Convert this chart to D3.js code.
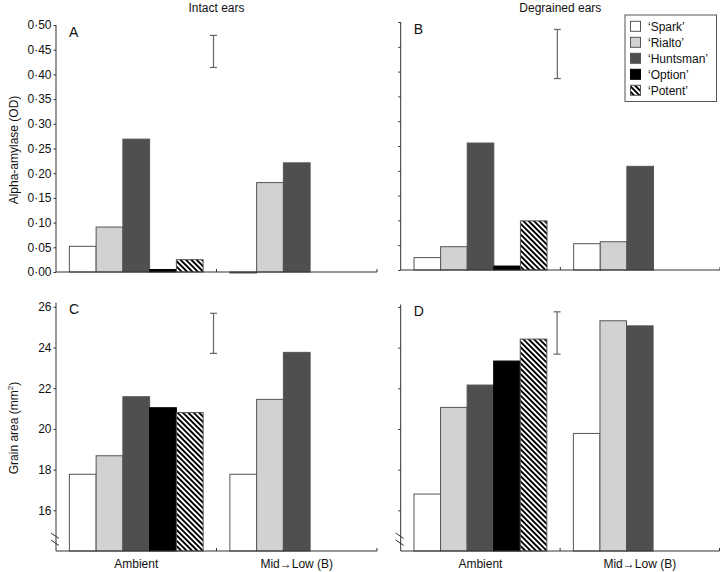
<!DOCTYPE html>
<html><head><meta charset="utf-8">
<script src="https://cdn.jsdelivr.net/npm/d3@7"></script>
<style>
body{margin:0;background:#fff;}
text{font-family:"Liberation Sans",Arial,sans-serif;fill:#111;}
</style></head>
<body><svg id="c" width="720" height="572"></svg>
<script>
const cultivars = ['\u2018Spark\u2019','\u2018Rialto\u2019','\u2018Huntsman\u2019','\u2018Option\u2019','\u2018Potent\u2019'];
const treatments = ['Ambient','Mid\u2192Low (B)'];
const columnTitles = ['Intact ears','Degrained ears'];
// values per treatment, in cultivar order
const amylaseIntact = [[0.052,0.091,0.269,0.005,0.025],[-0.002,0.181,0.221,null,null]];
const amylaseDegrained = [[0.025,0.047,0.256,0.008,0.099],[0.053,0.057,0.209,null,null]];
const grainIntact = [[17.77,18.68,21.58,21.04,20.80],[17.77,21.45,23.76,null,null]];
const grainDegrained = [[16.80,21.06,22.16,23.34,24.42],[19.78,25.32,25.07,null,null]];
// LSD error bars (low, high)
const errAmylaseIntact = [0.414,0.479];
const errAmylaseDegrained = [0.386,0.485];
const errGrainIntact = [23.71,25.68];
const errGrainDegrained = [23.68,25.76];
const amylaseTicks = [0,0.05,0.10,0.15,0.20,0.25,0.30,0.35,0.40,0.45,0.50];
const grainTicks = [16,18,20,22,24,26];

const fills = ['#ffffff','#d2d2d2','#4f4f4f','#000000','url(#stripes)'];
const svg = d3.select('#c');
const defs = svg.append('defs');
const pat = defs.append('pattern').attr('id','stripes').attr('patternUnits','userSpaceOnUse')
  .attr('width',3.8).attr('height',10).attr('patternTransform','rotate(-45)');
pat.append('rect').attr('width',3.8).attr('height',10).attr('fill','#fff');
pat.append('rect').attr('width',1.9).attr('height',10).attr('fill','#000');

const panels = [
  {letter:'A', data:amylaseIntact, err:errAmylaseIntact, x:[56,377], y:[272,25], dom:[0,0.5], ticks:amylaseTicks, labels:true, fmt:v=>d3.format('.2f')(v).replace('.','\u00b7'), xlab:false, brk:false},
  {letter:'B', data:amylaseDegrained, err:errAmylaseDegrained, x:[400.7,720], y:[270,22], dom:[0,0.5], ticks:amylaseTicks, labels:false, xlab:false, brk:false},
  {letter:'C', data:grainIntact, err:errGrainIntact, x:[56,377], y:[551,302.7], dom:[14,26.2], ticks:grainTicks, labels:true, fmt:d3.format('d'), xlab:true, brk:true},
  {letter:'D', data:grainDegrained, err:errGrainDegrained, x:[400.7,719.5], y:[551,304.5], dom:[14,26.12], ticks:grainTicks, labels:false, xlab:true, brk:true}
];

panels.forEach(p=>{
  const g = svg.append('g');
  const xo = d3.scaleBand().domain(treatments).range(p.x).paddingInner(0).paddingOuter(0);
  const xi = d3.scaleBand().domain(cultivars).range([0,xo.bandwidth()]).paddingInner(0).paddingOuter(0.5);
  const y = d3.scaleLinear().domain(p.dom).range(p.y);
  // bars
  treatments.forEach((t,ti)=>{
    cultivars.forEach((c,ci)=>{
      const v = p.data[ti][ci];
      if(v===null) return;
      const y0 = y(p.dom[0]), y1 = y(v);
      g.append('rect')
        .attr('x', xo(t)+xi(c)).attr('width', xi.bandwidth())
        .attr('y', Math.min(y0,y1)).attr('height', Math.max(Math.abs(y0-y1),1))
        .attr('fill', fills[ci]).attr('stroke', ci===3 ? '#000' : '#555').attr('stroke-width',1);
    });
  });
  // y axis
  const ya = d3.axisLeft(y).tickValues(p.ticks).tickSize(2.5).tickPadding(2)
    .tickFormat(p.labels ? p.fmt : '');
  const yg = g.append('g').attr('transform',`translate(${p.x[0]},0)`).call(ya);
  yg.select('.domain').attr('d',`M-0,${p.y[0]}V${p.y[1]}`).attr('stroke','#333');
  yg.selectAll('.tick line').attr('stroke','#333');
  yg.selectAll('.tick text').style('font-size','12px').attr('fill','#111');
  // x axis baseline with upward ticks at band boundaries
  g.append('line').attr('x1',p.x[0]).attr('x2',p.x[1]).attr('y1',p.y[0]).attr('y2',p.y[0]).attr('stroke','#333');
  const bounds = [xo(treatments[1]), p.x[1]];
  bounds.forEach(bx=>g.append('line').attr('x1',bx).attr('x2',bx).attr('y1',p.y[0]).attr('y2',p.y[0]-3).attr('stroke','#333'));
  if(p.xlab){
    treatments.forEach(t=>g.append('text').attr('x',xo(t)+xo.bandwidth()/2).attr('y',568)
      .attr('text-anchor','middle').style('font-size','12px').text(t));
  }
  // axis break
  if(p.brk){
    [536,543].forEach(by=>g.append('line').attr('x1',p.x[0]-5).attr('x2',p.x[0]+3).attr('y1',by-3).attr('y2',by+2.5)
      .attr('stroke','#333').attr('stroke-width',1));
  }
  // error bar
  const ex = xo(treatments[1]) - 3;
  const eg = g.append('g').attr('stroke','#666').attr('stroke-width',1.2);
  eg.append('line').attr('x1',ex).attr('x2',ex).attr('y1',y(p.err[0])).attr('y2',y(p.err[1]));
  p.err.forEach(e=>eg.append('line').attr('x1',ex-3.5).attr('x2',ex+3.5).attr('y1',y(e)).attr('y2',y(e)));
  // letter
  g.append('text').attr('x',p.x[0]+13).attr('y',p.y[1]+11.5).style('font-size','14px').text(p.letter);
  p.xo = xo;
});

// column titles
columnTitles.forEach((t,i)=>{
  const xo = panels[i].xo;
  svg.append('text').attr('x',xo(treatments[1])).attr('y',12).attr('text-anchor','middle').style('font-size','12px').text(t);
});

// y-axis titles
svg.append('text').attr('transform','translate(18,150) rotate(-90)').attr('text-anchor','middle').style('font-size','12px').text('Alpha-amylase (OD)');
const gt = svg.append('text').attr('transform','translate(18,428) rotate(-90)').attr('text-anchor','middle').style('font-size','12px');
gt.append('tspan').text('Grain area (mm');
gt.append('tspan').attr('dy',-5).style('font-size','8px').text('2');
gt.append('tspan').attr('dy',5).text(')');

// legend
const lg = svg.append('g');
lg.append('rect').attr('x',625).attr('y',15).attr('width',91.5).attr('height',86.5).attr('fill','#fff').attr('stroke','#555');
cultivars.forEach((c,i)=>{
  const cy = 26.3 + i*16;
  lg.append('rect').attr('x',630.5).attr('y',cy-5).attr('width',10).attr('height',10)
    .attr('fill',fills[i]).attr('stroke', i===3?'#000':'#555');
  lg.append('text').attr('x',648).attr('y',cy+4.5).style('font-size','12px').text(c);
});
</script></body></html>
